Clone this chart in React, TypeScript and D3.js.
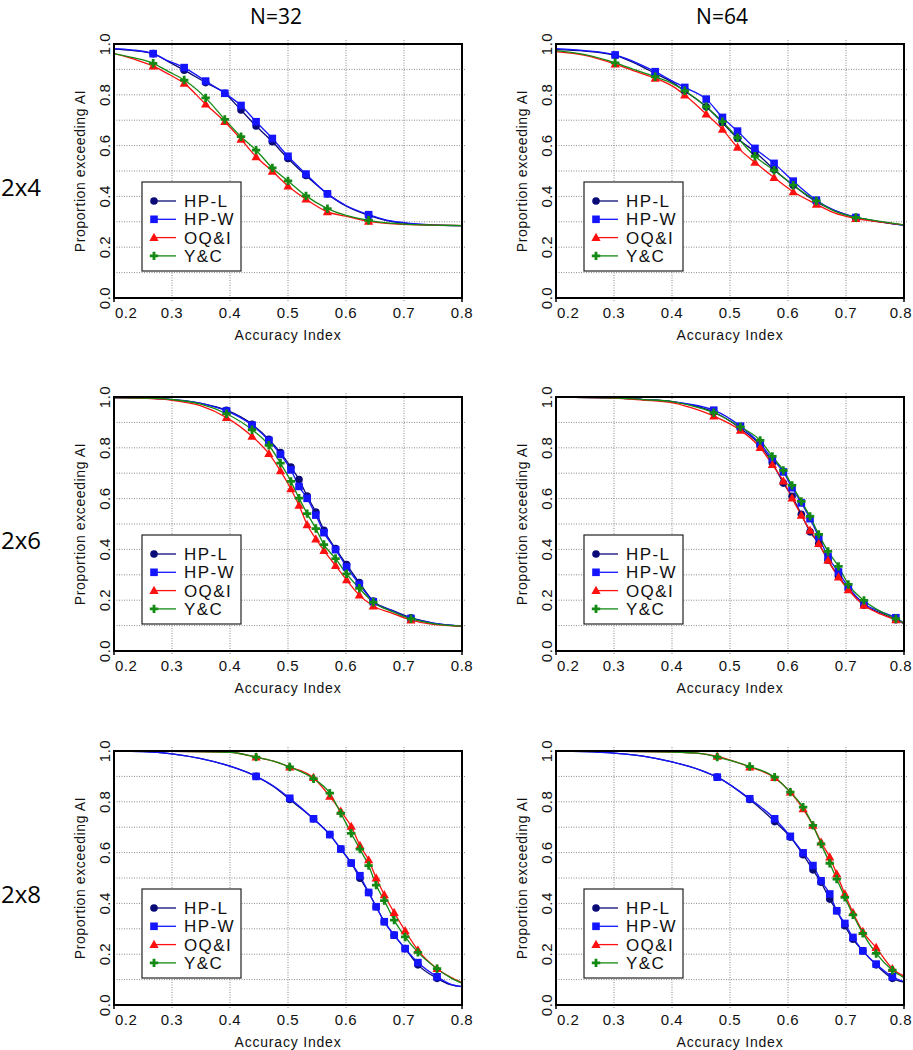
import React from 'react';
import * as d3 from 'd3';

// each point: [accuracy index, proportion, marker?]
type Pt = number[];

const seriesNames = ['HP-L', 'HP-W', 'OQ&I', 'Y&C'];
const seriesColors = ['#0b0b78', '#1414ff', '#ff1010', '#138a13'];
const seriesShapes = ['circle', 'square', 'triangle', 'plus'];

const colTitles = ['N=32', 'N=64'];
const rowTitles = ['2x4', '2x6', '2x8'];
const xTicks = [0.2, 0.3, 0.4, 0.5, 0.6, 0.7, 0.8];
const yTicks = [0.0, 0.2, 0.4, 0.6, 0.8, 1.0];
const yGrid = [0.1, 0.2, 0.3, 0.4, 0.5, 0.6, 0.7, 0.8, 0.9];
const xGrid = [0.3, 0.4, 0.5, 0.6, 0.7];

// 2x4, N=32
const p24n32HPL: Pt[] = [[0.2, 0.98], [0.23, 0.975], [0.2675, 0.962, 1], [0.29, 0.935], [0.321, 0.897, 1], [0.358, 0.848, 1], [0.391, 0.806, 1], [0.419, 0.74, 1], [0.445, 0.677, 1], [0.473, 0.615, 1], [0.5, 0.549, 1], [0.531, 0.482, 1], [0.568, 0.41, 1], [0.6, 0.362], [0.639, 0.325, 1], [0.67, 0.305], [0.7, 0.295], [0.75, 0.287], [0.8, 0.285]];
const p24n32HPW: Pt[] = [[0.2, 0.982], [0.23, 0.977], [0.2675, 0.962, 1], [0.29, 0.937], [0.321, 0.907, 1], [0.358, 0.854, 1], [0.391, 0.806, 1], [0.419, 0.758, 1], [0.445, 0.694, 1], [0.473, 0.628, 1], [0.5, 0.558, 1], [0.531, 0.488, 1], [0.568, 0.41, 1], [0.6, 0.364], [0.639, 0.328, 1], [0.67, 0.307], [0.7, 0.297], [0.75, 0.288], [0.8, 0.285]];
const p24n32OQI: Pt[] = [[0.2, 0.962], [0.235, 0.94], [0.2675, 0.913, 1], [0.295, 0.88], [0.321, 0.845, 1], [0.358, 0.763, 1], [0.391, 0.694, 1], [0.419, 0.625, 1], [0.445, 0.556, 1], [0.473, 0.499, 1], [0.5, 0.441, 1], [0.531, 0.389, 1], [0.568, 0.339, 1], [0.6, 0.322], [0.639, 0.302, 1], [0.67, 0.294], [0.7, 0.29], [0.75, 0.287], [0.8, 0.285]];
const p24n32YC: Pt[] = [[0.2, 0.962], [0.235, 0.945], [0.2675, 0.924, 1], [0.295, 0.89], [0.321, 0.858, 1], [0.358, 0.788, 1], [0.391, 0.703, 1], [0.419, 0.635, 1], [0.445, 0.582, 1], [0.473, 0.512, 1], [0.5, 0.461, 1], [0.531, 0.402, 1], [0.568, 0.352, 1], [0.6, 0.325], [0.639, 0.306, 1], [0.67, 0.296], [0.7, 0.291], [0.75, 0.287], [0.8, 0.285]];

// 2x4, N=64
const p24n64HPL: Pt[] = [[0.2, 0.978], [0.25, 0.972], [0.302, 0.955, 1], [0.34, 0.92], [0.371, 0.884, 1], [0.4, 0.85], [0.422, 0.815, 1], [0.459, 0.753, 1], [0.487, 0.69, 1], [0.513, 0.628, 1], [0.543, 0.576, 1], [0.576, 0.506, 1], [0.609, 0.444, 1], [0.649, 0.378, 1], [0.68, 0.345], [0.717, 0.317, 1], [0.75, 0.303], [0.8, 0.287]];
const p24n64HPW: Pt[] = [[0.2, 0.982], [0.25, 0.974], [0.302, 0.957, 1], [0.34, 0.925], [0.371, 0.891, 1], [0.4, 0.855], [0.422, 0.829, 1], [0.459, 0.783, 1], [0.487, 0.711, 1], [0.513, 0.657, 1], [0.543, 0.589, 1], [0.576, 0.53, 1], [0.609, 0.46, 1], [0.649, 0.385, 1], [0.68, 0.345], [0.717, 0.317, 1], [0.75, 0.303], [0.8, 0.287]];
const p24n64OQI: Pt[] = [[0.2, 0.97], [0.25, 0.955], [0.302, 0.921, 1], [0.34, 0.89], [0.371, 0.865, 1], [0.4, 0.835], [0.422, 0.799, 1], [0.459, 0.724, 1], [0.487, 0.664, 1], [0.513, 0.593, 1], [0.543, 0.534, 1], [0.576, 0.474, 1], [0.609, 0.418, 1], [0.649, 0.369, 1], [0.68, 0.335], [0.717, 0.313, 1], [0.75, 0.302], [0.8, 0.288]];
const p24n64YC: Pt[] = [[0.2, 0.974], [0.25, 0.958], [0.302, 0.926, 1], [0.34, 0.895], [0.371, 0.871, 1], [0.4, 0.845], [0.422, 0.816, 1], [0.459, 0.753, 1], [0.487, 0.694, 1], [0.513, 0.631, 1], [0.543, 0.558, 1], [0.576, 0.503, 1], [0.609, 0.444, 1], [0.649, 0.382, 1], [0.68, 0.342], [0.717, 0.317, 1], [0.75, 0.305], [0.8, 0.288]];

// 2x6, N=32
const p26n32HPL: Pt[] = [[0.2, 0.998], [0.25, 0.996], [0.3, 0.99], [0.35, 0.975], [0.394, 0.948, 1], [0.438, 0.893, 1], [0.467, 0.833, 1], [0.487, 0.781, 1], [0.505, 0.724, 1], [0.519, 0.675, 1], [0.533, 0.61, 1], [0.548, 0.547, 1], [0.562, 0.475, 1], [0.582, 0.403, 1], [0.601, 0.34, 1], [0.623, 0.269, 1], [0.647, 0.197, 1], [0.68, 0.16], [0.712, 0.131, 1], [0.75, 0.11], [0.8, 0.098]];
const p26n32HPW: Pt[] = [[0.2, 0.998], [0.25, 0.996], [0.3, 0.99], [0.35, 0.975], [0.394, 0.945, 1], [0.438, 0.889, 1], [0.467, 0.829, 1], [0.487, 0.774, 1], [0.505, 0.713, 1], [0.519, 0.648, 1], [0.533, 0.601, 1], [0.548, 0.535, 1], [0.562, 0.466, 1], [0.582, 0.399, 1], [0.601, 0.331, 1], [0.623, 0.262, 1], [0.647, 0.194, 1], [0.68, 0.158], [0.712, 0.128, 1], [0.75, 0.11], [0.8, 0.098]];
const p26n32OQI: Pt[] = [[0.2, 0.998], [0.25, 0.995], [0.3, 0.987], [0.35, 0.965], [0.394, 0.919, 1], [0.438, 0.845, 1], [0.467, 0.777, 1], [0.487, 0.709, 1], [0.505, 0.638, 1], [0.519, 0.573, 1], [0.533, 0.497, 1], [0.548, 0.441, 1], [0.562, 0.395, 1], [0.582, 0.336, 1], [0.601, 0.28, 1], [0.623, 0.22, 1], [0.647, 0.177, 1], [0.68, 0.148], [0.712, 0.122, 1], [0.75, 0.105], [0.8, 0.098]];
const p26n32YC: Pt[] = [[0.2, 0.998], [0.25, 0.996], [0.3, 0.99], [0.35, 0.972], [0.394, 0.934, 1], [0.438, 0.871, 1], [0.467, 0.81, 1], [0.487, 0.74, 1], [0.505, 0.668, 1], [0.519, 0.602, 1], [0.533, 0.541, 1], [0.548, 0.482, 1], [0.562, 0.419, 1], [0.582, 0.364, 1], [0.601, 0.304, 1], [0.623, 0.247, 1], [0.647, 0.192, 1], [0.68, 0.155], [0.712, 0.127, 1], [0.75, 0.108], [0.8, 0.098]];

// 2x6, N=64
const p26n64HPL: Pt[] = [[0.2, 1], [0.3, 0.997], [0.35, 0.99], [0.4, 0.982], [0.43, 0.97], [0.472, 0.941, 1], [0.518, 0.876, 1], [0.552, 0.81, 1], [0.573, 0.741, 1], [0.592, 0.661, 1], [0.607, 0.609, 1], [0.623, 0.538, 1], [0.638, 0.469, 1], [0.653, 0.423, 1], [0.669, 0.357, 1], [0.687, 0.294, 1], [0.704, 0.245, 1], [0.731, 0.18, 1], [0.76, 0.15], [0.786, 0.123, 1], [0.8, 0.108]];
const p26n64HPW: Pt[] = [[0.2, 1], [0.3, 0.997], [0.35, 0.99], [0.4, 0.982], [0.43, 0.972], [0.472, 0.948, 1], [0.518, 0.885, 1], [0.552, 0.816, 1], [0.573, 0.757, 1], [0.592, 0.705, 1], [0.607, 0.643, 1], [0.623, 0.583, 1], [0.638, 0.521, 1], [0.653, 0.449, 1], [0.669, 0.371, 1], [0.687, 0.311, 1], [0.704, 0.252, 1], [0.731, 0.186, 1], [0.76, 0.155], [0.786, 0.131, 1], [0.8, 0.11]];
const p26n64OQI: Pt[] = [[0.2, 1], [0.3, 0.996], [0.35, 0.988], [0.4, 0.978], [0.43, 0.96], [0.472, 0.925, 1], [0.518, 0.869, 1], [0.552, 0.801, 1], [0.573, 0.734, 1], [0.592, 0.669, 1], [0.607, 0.602, 1], [0.623, 0.534, 1], [0.638, 0.475, 1], [0.653, 0.423, 1], [0.669, 0.357, 1], [0.687, 0.291, 1], [0.704, 0.241, 1], [0.731, 0.18, 1], [0.76, 0.145], [0.786, 0.123, 1], [0.8, 0.11]];
const p26n64YC: Pt[] = [[0.2, 1], [0.3, 0.997], [0.35, 0.99], [0.4, 0.982], [0.43, 0.968], [0.472, 0.938, 1], [0.518, 0.882, 1], [0.552, 0.829, 1], [0.573, 0.766, 1], [0.592, 0.711, 1], [0.607, 0.652, 1], [0.623, 0.589, 1], [0.638, 0.53, 1], [0.653, 0.459, 1], [0.669, 0.392, 1], [0.687, 0.333, 1], [0.704, 0.262, 1], [0.731, 0.199, 1], [0.76, 0.155], [0.786, 0.127, 1], [0.8, 0.11]];

// 2x8, N=32
const p28n32HPL: Pt[] = [[0.2, 1], [0.25, 0.998], [0.3, 0.989], [0.35, 0.97], [0.4, 0.94], [0.445, 0.9, 1], [0.475, 0.86], [0.503, 0.809, 1], [0.544, 0.733, 1], [0.572, 0.671, 1], [0.591, 0.614, 1], [0.609, 0.559, 1], [0.624, 0.499, 1], [0.639, 0.443, 1], [0.652, 0.387, 1], [0.666, 0.328, 1], [0.683, 0.275, 1], [0.702, 0.222, 1], [0.724, 0.158, 1], [0.757, 0.105, 1], [0.78, 0.08], [0.8, 0.072]];
const p28n32HPW: Pt[] = [[0.2, 1], [0.25, 0.998], [0.3, 0.989], [0.35, 0.97], [0.4, 0.94], [0.445, 0.9, 1], [0.475, 0.862], [0.503, 0.814, 1], [0.544, 0.733, 1], [0.572, 0.671, 1], [0.591, 0.614, 1], [0.609, 0.559, 1], [0.624, 0.509, 1], [0.639, 0.443, 1], [0.652, 0.387, 1], [0.666, 0.328, 1], [0.683, 0.275, 1], [0.702, 0.222, 1], [0.724, 0.167, 1], [0.757, 0.111, 1], [0.78, 0.082], [0.8, 0.072]];
const p28n32OQI: Pt[] = [[0.2, 1], [0.3, 0.999], [0.4, 0.995], [0.445, 0.976, 1], [0.475, 0.96], [0.503, 0.937, 1], [0.544, 0.895, 1], [0.572, 0.821, 1], [0.591, 0.763, 1], [0.609, 0.703, 1], [0.624, 0.628, 1], [0.639, 0.571, 1], [0.652, 0.5, 1], [0.666, 0.434, 1], [0.683, 0.364, 1], [0.702, 0.292, 1], [0.724, 0.216, 1], [0.757, 0.143, 1], [0.78, 0.11], [0.8, 0.088]];
const p28n32YC: Pt[] = [[0.2, 1], [0.3, 0.999], [0.4, 0.995], [0.445, 0.976, 1], [0.475, 0.96], [0.503, 0.937, 1], [0.544, 0.891, 1], [0.572, 0.834, 1], [0.591, 0.755, 1], [0.609, 0.676, 1], [0.624, 0.614, 1], [0.639, 0.549, 1], [0.652, 0.472, 1], [0.666, 0.411, 1], [0.683, 0.334, 1], [0.702, 0.268, 1], [0.724, 0.207, 1], [0.757, 0.143, 1], [0.78, 0.108], [0.8, 0.086]];

// 2x8, N=64
const p28n64HPL: Pt[] = [[0.2, 1], [0.25, 0.998], [0.3, 0.992], [0.35, 0.98], [0.4, 0.957], [0.45, 0.924], [0.478, 0.897, 1], [0.534, 0.809, 1], [0.577, 0.722, 1], [0.604, 0.661, 1], [0.626, 0.592, 1], [0.643, 0.532, 1], [0.657, 0.483, 1], [0.672, 0.417, 1], [0.684, 0.371, 1], [0.698, 0.312, 1], [0.712, 0.259, 1], [0.729, 0.213, 1], [0.752, 0.158, 1], [0.78, 0.105, 1], [0.8, 0.09]];
const p28n64HPW: Pt[] = [[0.2, 1], [0.25, 0.998], [0.3, 0.992], [0.35, 0.98], [0.4, 0.957], [0.45, 0.924], [0.478, 0.897, 1], [0.534, 0.812, 1], [0.577, 0.733, 1], [0.604, 0.664, 1], [0.626, 0.599, 1], [0.643, 0.549, 1], [0.657, 0.489, 1], [0.672, 0.437, 1], [0.684, 0.371, 1], [0.698, 0.321, 1], [0.712, 0.266, 1], [0.729, 0.213, 1], [0.752, 0.161, 1], [0.78, 0.111, 1], [0.8, 0.092]];
const p28n64OQI: Pt[] = [[0.2, 1], [0.3, 0.999], [0.4, 0.996], [0.45, 0.99], [0.478, 0.979, 1], [0.534, 0.937, 1], [0.577, 0.895, 1], [0.604, 0.838, 1], [0.626, 0.772, 1], [0.643, 0.707, 1], [0.657, 0.641, 1], [0.672, 0.582, 1], [0.684, 0.516, 1], [0.698, 0.437, 1], [0.712, 0.364, 1], [0.729, 0.289, 1], [0.752, 0.226, 1], [0.78, 0.143, 1], [0.8, 0.114]];
const p28n64YC: Pt[] = [[0.2, 1], [0.3, 0.999], [0.4, 0.996], [0.45, 0.99], [0.478, 0.976, 1], [0.534, 0.939, 1], [0.577, 0.897, 1], [0.604, 0.838, 1], [0.626, 0.779, 1], [0.643, 0.707, 1], [0.657, 0.634, 1], [0.672, 0.558, 1], [0.684, 0.496, 1], [0.698, 0.424, 1], [0.712, 0.355, 1], [0.729, 0.282, 1], [0.752, 0.203, 1], [0.78, 0.137, 1], [0.8, 0.108]];

const panels: Pt[][][][] = [
  [[p24n32HPL, p24n32HPW, p24n32OQI, p24n32YC], [p24n64HPL, p24n64HPW, p24n64OQI, p24n64YC]],
  [[p26n32HPL, p26n32HPW, p26n32OQI, p26n32YC], [p26n64HPL, p26n64HPW, p26n64OQI, p26n64YC]],
  [[p28n32HPL, p28n32HPW, p28n32OQI, p28n32YC], [p28n64HPL, p28n64HPW, p28n64OQI, p28n64YC]],
];

const W = 913;
const H = 1050;
const plotW = 348;
const plotH = 254;
const colLeft = [114, 556];
const rowTop = [44, 397, 751];
const axisFont = 'Liberation Sans, Arial, Helvetica, sans-serif';
const titleFont = 'Open Sans, Noto Sans, sans-serif';

function Marker({ shape, x, y, color }: { shape: string; x: number; y: number; color: string }) {
  if (shape === 'circle') return <circle cx={x} cy={y} r={3.8} fill={color} />;
  if (shape === 'square') return <rect x={x - 3.8} y={y - 3.8} width={7.6} height={7.6} fill={color} />;
  if (shape === 'triangle') {
    const path = `M${x},${y - 4.8}L${x + 4.6},${y + 3.4}L${x - 4.6},${y + 3.4}Z`;
    return <path d={path} fill={color} />;
  }
  return (
    <path d={`M${x - 4.2},${y}H${x + 4.2}M${x},${y - 4.2}V${y + 4.2}`} stroke={color} strokeWidth={2.8} fill="none" />
  );
}

function Panel({ left, top, data, id }: { left: number; top: number; data: Pt[][]; id: string }) {
  const x = d3.scaleLinear().domain([0.2, 0.8]).range([0, plotW]);
  const y = d3.scaleLinear().domain([0, 1]).range([plotH, 0]);
  const line = d3
    .line<Pt>()
    .x((d) => x(d[0]))
    .y((d) => y(d[1]))
    .curve(d3.curveMonotoneX);
  const legX = 28;
  const legY = 138;

  // where each x tick label goes; the first starts at the axis, the last stays inside the page
  const xLabel = (t: number, i: number) => {
    if (i === 0) return { x: x(t) + 1, anchor: 'start' };
    if (left + x(t) + 12 > W - 1) return { x: W - 1 - left, anchor: 'end' };
    return { x: x(t), anchor: 'middle' };
  };

  return (
    <g transform={`translate(${left},${top})`}>
      <defs>
        <clipPath id={id}>
          <rect x={0} y={-2} width={plotW} height={plotH + 4} />
        </clipPath>
      </defs>
      {/* dotted grid */}
      {yGrid.map((t) => (
        <line key={'gy' + t} x1={0} x2={plotW + 4} y1={y(t)} y2={y(t)} stroke="#8a8a8a" strokeWidth={1} strokeDasharray="1,1.5" />
      ))}
      {xGrid.map((t) => (
        <line key={'gx' + t} x1={x(t)} x2={x(t)} y1={-4} y2={plotH + 4} stroke="#8a8a8a" strokeWidth={1} strokeDasharray="1,1.5" />
      ))}
      {/* curves */}
      <g clipPath={`url(#${id})`}>
        {data.map((s, i) => (
          <path key={'l' + i} d={line(s) || ''} fill="none" stroke={seriesColors[i]} strokeWidth={1.3} />
        ))}
        {data.map((s, i) =>
          s.filter((p) => p[2]).map((p, j) => (
            <Marker key={'m' + i + '-' + j} shape={seriesShapes[i]} x={x(p[0])} y={y(p[1])} color={seriesColors[i]} />
          ))
        )}
      </g>
      {/* frame */}
      <rect x={0} y={0} width={plotW} height={plotH} fill="none" stroke="#000" strokeWidth={2} />
      {[0.2, 0.8].map((t) => (
        <line key={'tx' + t} x1={x(t)} x2={x(t)} y1={plotH} y2={plotH + 4} stroke="#000" strokeWidth={1.5} />
      ))}
      {/* x tick labels */}
      {xTicks.map((t, i) => {
        const lab = xLabel(t, i);
        return (
          <text
            key={'xl' + t}
            x={lab.x}
            y={plotH + 20}
            textAnchor={lab.anchor}
            fontFamily={axisFont}
            fontSize={15}
            letterSpacing={0.5}
            fill="#111"
          >
            {t.toFixed(1)}
          </text>
        );
      })}
      {/* y tick labels, rotated */}
      {yTicks.map((t) => (
        <text
          key={'yl' + t}
          transform={`translate(-4,${y(t)}) rotate(-90)`}
          textAnchor="middle"
          fontFamily={axisFont}
          fontSize={15}
          letterSpacing={0.5}
          fill="#111"
        >
          {t.toFixed(1)}
        </text>
      ))}
      <text
        transform={`translate(-29,${plotH / 2}) rotate(-90)`}
        textAnchor="middle"
        fontFamily={axisFont}
        fontSize={14}
        letterSpacing={0.6}
        fill="#111"
      >
        Proportion exceeding AI
      </text>
      <text x={plotW / 2} y={plotH + 42} textAnchor="middle" fontFamily={axisFont} fontSize={14} letterSpacing={0.8} fill="#111">
        Accuracy Index
      </text>
      {/* legend */}
      <g transform={`translate(${legX},${legY})`}>
        <rect x={0} y={0} width={99} height={89} fill="#fff" stroke="#222" strokeWidth={1.2} />
        {seriesNames.map((name, i) => {
          const ly = 19 + i * 18.3;
          return (
            <g key={name}>
              <line x1={12} x2={34} y1={ly} y2={ly} stroke={seriesColors[i]} strokeWidth={1.3} />
              <Marker shape={seriesShapes[i]} x={12} y={ly} color={seriesColors[i]} />
              <text x={42} y={ly + 6} fontFamily={axisFont} fontSize={17} letterSpacing={1.4} fill="#111">
                {name}
              </text>
            </g>
          );
        })}
      </g>
    </g>
  );
}

export default function App() {
  return (
    <svg width={W} height={H} style={{ position: 'absolute', left: 0, top: 0, background: '#fff' }}>
      <rect x={0} y={0} width={W} height={H} fill="#fff" />
      {colTitles.map((t, c) => (
        <text key={t} x={[276, 722][c]} y={24} textAnchor="middle" fontFamily={titleFont} fontSize={21} fill="#000">
          {t}
        </text>
      ))}
      {rowTitles.map((t, r) => (
        <text key={t} x={1} y={rowTop[r] + plotH / 2 + 25} fontFamily={titleFont} fontSize={24} fill="#000">
          {t}
        </text>
      ))}
      {panels.map((row, r) =>
        row.map((data, c) => (
          <Panel key={r + '-' + c} left={colLeft[c]} top={rowTop[r]} data={data} id={`clip-${r}-${c}`} />
        ))
      )}
    </svg>
  );
}
